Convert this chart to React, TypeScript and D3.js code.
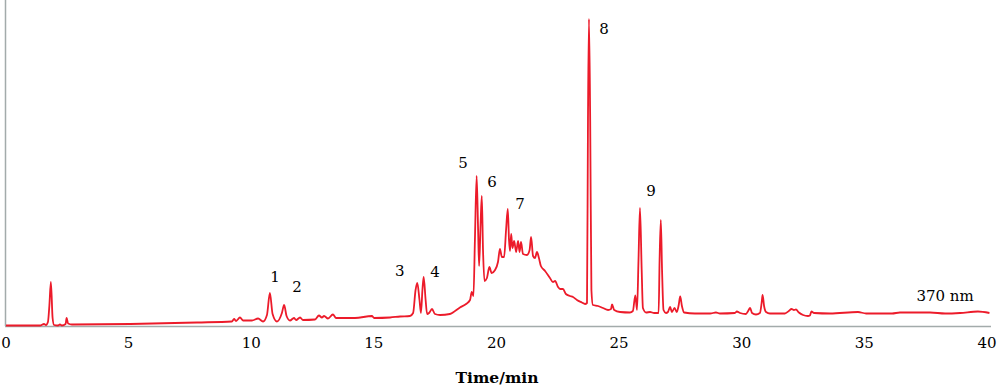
import React from "react";
import * as d3 from "d3";

// retention time (min) and detector response (arbitrary units)
const times = [
  0, 1.39, 1.55, 1.63, 1.71, 1.77, 1.83, 1.9, 1.96, 2.12, 2.2, 2.28, 2.43, 2.47, 2.53, 2.69,
  5.06, 7.79, 9.21, 9.3, 9.38, 9.54, 9.67, 10.03, 10.28, 10.48, 10.64, 10.76, 10.87, 11.05,
  11.25, 11.34, 11.44, 11.58, 11.74, 11.83, 11.99, 12.11, 12.6, 12.76, 12.88, 12.97, 13.13,
  13.33, 13.46, 13.82, 14.23, 14.92, 15.01, 15.66, 16.07, 16.47, 16.6, 16.7, 16.77, 16.86,
  16.92, 16.98, 17.03, 17.11, 17.17, 17.25, 17.37, 17.49, 17.7, 18.1, 18.31, 18.51, 18.76,
  18.92, 18.99, 19.06, 19.12, 19.19, 19.25, 19.29, 19.35, 19.4, 19.45, 19.51, 19.61, 19.71,
  19.8, 19.94, 20.06, 20.14, 20.22, 20.31, 20.39, 20.46, 20.51, 20.55, 20.6, 20.65, 20.72,
  20.8, 20.88, 20.94, 21.0, 21.08, 21.24, 21.35, 21.41, 21.49, 21.57, 21.65, 21.73, 21.81,
  21.98, 22.18, 22.3, 22.39, 22.51, 22.59, 22.71, 22.83, 23.0, 23.12, 23.28, 23.48, 23.61,
  23.69, 23.73, 23.77, 23.82, 23.87, 23.93, 24.14, 24.34, 24.55, 24.67, 24.71, 24.8, 25.04,
  25.44, 25.56, 25.66, 25.73, 25.79, 25.85, 25.92, 25.97, 26.1, 26.26, 26.43, 26.61, 26.65,
  26.7, 26.75, 26.81, 26.91, 26.99, 27.08, 27.15, 27.26, 27.35, 27.43, 27.49, 27.56, 27.65,
  28.09, 28.71, 28.95, 29.11, 29.72, 29.8, 29.93, 30.17, 30.26, 30.34, 30.42, 30.58, 30.74,
  30.81, 30.85, 30.91, 30.99, 31.15, 31.76, 31.92, 32.03, 32.13, 32.21, 32.33, 32.5, 32.7,
  32.78, 32.84, 32.95, 33.6, 34.74, 35.07, 36.13, 36.45, 37.68, 38.29, 38.9, 39.63, 40.1,
];
const signal = [
  0.5, 0.5, 2, 1, 4, 21, 44, 8, 1, 0.5, 1.5, 0.5, 2, 8, 2.5, 1.5,
  2, 3.5, 4.5, 7, 5, 8.5, 5.5, 5.5, 7.5, 4.5, 11, 33, 12, 4.5,
  13, 21, 10, 5.5, 8, 6, 8.5, 6, 6.5, 10.5, 8.5, 10, 7.5,
  11.5, 8, 8, 8, 10, 8, 8.5, 9.5, 10, 13, 36, 43, 26,
  13, 36, 49, 26, 12, 13, 17, 12, 11, 12, 15, 18.5, 22,
  26, 34, 30, 86, 150, 96, 60, 101, 130, 76, 45, 48, 59,
  53, 56, 64, 77, 69, 69, 96, 117, 86, 75, 92, 78, 85,
  74, 85, 74, 84, 72, 71, 76, 89, 70, 68, 74, 68, 60,
  55, 48, 44, 45, 39, 37, 37, 32, 30, 29, 26, 23.5, 22,
  23, 206, 307, 206, 36, 21, 20, 18, 16, 17, 21.5, 16, 14,
  13.5, 15, 30.5, 16, 66, 118, 56, 18, 13.5, 14, 13, 13, 66,
  106, 56, 16, 13, 14, 19, 14, 18, 14, 21, 29.5, 20, 13.5,
  12.5, 12.5, 13.5, 12.5, 13, 14.5, 13, 12, 15, 18, 13, 11.5, 13,
  23, 31, 20, 14, 12.5, 12.5, 15, 17, 16, 16.5, 13.5, 11, 10,
  10.5, 14.5, 13, 12.5, 14, 12.5, 12.5, 13.5, 13.5, 12.5, 13, 14.5, 13,
];

const xTicks = [0, 5, 10, 15, 20, 25, 30, 35, 40];

// peak numbers and where they are written (time, response)
const peakNames = ["1", "2", "3", "4", "5", "6", "7", "8", "9"];
const peakTimes = [10.97, 11.87, 16.06, 17.49, 18.63, 19.82, 20.96, 24.38, 26.3];
const peakLevels = [44, 34, 50, 49, 158, 139, 117, 292, 130];

const wavelength = "370 nm";

export default function App() {
  const width = 1000;
  const height = 387;
  const left = 6;
  const right = 987;
  const base = 326;

  const x = d3.scaleLinear().domain([0, 40]).range([left, right]);
  const y = d3.scaleLinear().domain([0, 326]).range([base, 0]);

  const data = times.map((t, i) => ({ t, v: signal[i] }));
  const line = d3
    .line<{ t: number; v: number }>()
    .x((d) => x(d.t))
    .y((d) => y(d.v))
    .curve(d3.curveMonotoneX);

  const font = "'DejaVu Serif', serif";

  return (
    <svg
      width={width}
      height={height}
      style={{ position: "absolute", left: 0, top: 0, background: "#fff" }}
      fontFamily={font}
    >
      {/* axes */}
      <line x1={5.5} x2={5.5} y1={0} y2={base} stroke="#a3abab" strokeWidth={1.5} />
      <line x1={5} x2={991} y1={base + 0.5} y2={base + 0.5} stroke="#a3abab" strokeWidth={1.5} />

      {xTicks.map((t) => (
        <text key={t} x={x(t)} y={348} textAnchor="middle" fontSize={15} fill="#000">
          {t}
        </text>
      ))}
      <text x={497} y={383} textAnchor="middle" fontSize={15.5} fontWeight="bold" fill="#000">
        Time/min
      </text>

      <path d={line(data) ?? ""} fill="none" stroke="#ec1b2a" strokeWidth={1.8} strokeLinejoin="round" />

      {peakNames.map((n, i) => (
        <text
          key={n}
          x={x(peakTimes[i])}
          y={y(peakLevels[i])}
          textAnchor="middle"
          fontSize={15}
          fill="#000"
        >
          {n}
        </text>
      ))}
      <text x={x(38.29)} y={y(25)} textAnchor="middle" fontSize={15} fill="#000">
        {wavelength}
      </text>
    </svg>
  );
}
